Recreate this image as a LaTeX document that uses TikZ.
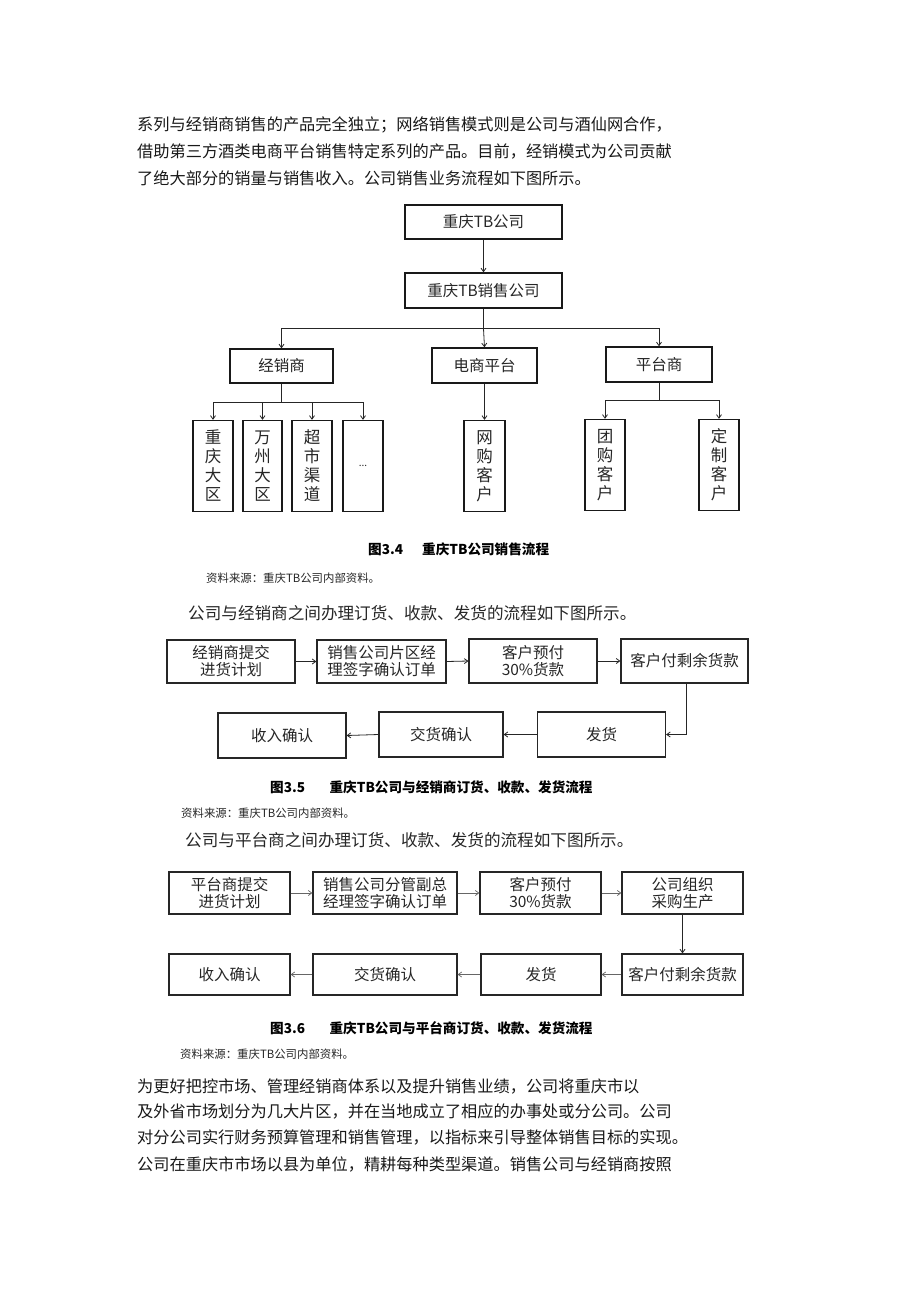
\documentclass[tikz,border=0pt]{standalone}
\usepackage{fontspec}
\setmainfont{Noto Sans CJK SC}
\usetikzlibrary{arrows.meta}
\begin{document}
\begin{tikzpicture}[x=1pt,y=-1pt,
  para/.style={anchor=west,inner sep=0pt,text=black!90,font=\fontsize{16.2}{19}\selectfont},
  mid/.style={anchor=west,inner sep=0pt,text=black!85,font=\fontsize{16.6}{19}\selectfont},
  figcap/.style={anchor=west,inner sep=0pt,text=black,font=\bfseries\fontsize{13.6}{16}\selectfont},
  src/.style={anchor=west,inner sep=0pt,text=black!85,font=\fontsize{11.4}{13}\selectfont},
  box/.style={draw=black!90,line width=1.4pt,inner sep=0pt,align=center,text=black!85,font=\fontsize{15.5}{17}\selectfont},
  leaf/.style={box,minimum width=40pt,minimum height=91pt,font=\fontsize{16.5}{19}\selectfont},
  fbox/.style={draw=black!85,line width=1.2pt,inner sep=0pt,align=center,text=black!85,font=\fontsize{15.5}{17}\selectfont},
  arr/.style={-{Straight Barb[length=3.5pt,width=5pt]},line width=0.8pt,draw=black!85},
  larr/.style={-{Straight Barb[length=3.5pt,width=5pt]},line width=0.7pt,draw=black!60},
  ln/.style={line width=0.8pt,draw=black!85}]
\useasboundingbox[fill=white] (0,0) rectangle (920,1302);

% top paragraph
\node[para] (t1) at (137,125) {系列与经销商销售的产品完全独立；网络销售模式则是公司与酒仙网合作，};
\node[para] (t2) at (137,152) {借助第三方酒类电商平台销售特定系列的产品。目前，经销模式为公司贡献};
\node[para] (t3) at (137,178) {了绝大部分的销量与销售收入。公司销售业务流程如下图所示。};

% org chart
\node[box,minimum width=157pt,minimum height=34pt] (top) at (483.5,222) {重庆TB公司};
\node[box,minimum width=157pt,minimum height=35pt] (sales) at (483.5,290.5) {重庆TB销售公司};
\node[box,minimum width=103pt,minimum height=34pt] (jxs) at (281.5,366) {经销商};
\node[box,minimum width=105pt,minimum height=35pt] (dspt) at (484.5,365.5) {电商平台};
\node[box,minimum width=106pt,minimum height=35pt] (pts) at (659,364.5) {平台商};

\node[leaf] (cq) at (213,466) {重\\庆\\大\\区};
\node[leaf,minimum width=39pt] (wz) at (262.5,466) {万\\州\\大\\区};
\node[leaf] (cs) at (312,466) {超\\市\\渠\\道};
\node[leaf] (dots) at (363,466) {\fontsize{10}{12}\selectfont ...};
\node[leaf,minimum width=41pt] (wg) at (484.5,466) {网\\购\\客\\户};
\node[leaf] (tg) at (605,465) {团\\购\\客\\户};
\node[leaf] (dz) at (719,465) {定\\制\\客\\户};

\draw[arr] (top.south) -- (sales.north);
\draw[ln] (sales.south) -- ++(0,20) coordinate (b1);
\draw[arr] (b1) -| (jxs.north);
\draw[arr] (b1) -| (pts.north);
\draw[arr] (b1) -- (dspt.north);

\draw[ln] (jxs.south) -- ++(0,19) coordinate (b2);
\draw[arr] (b2) -| (cq.north);
\draw[arr] (b2) -| (wz.north);
\draw[arr] (b2) -| (cs.north);
\draw[arr] (b2) -| (dots.north);
\draw[arr] (dspt.south) -- (wg.north);
\draw[ln] (pts.south) -- ++(0,18) coordinate (b3);
\draw[arr] (b3) -| (tg.north);
\draw[arr] (b3) -| (dz.north);

\node[figcap] (c1) at (368,549) {图3.4\hspace{1.4em}重庆TB公司销售流程};
\node[src] (s1) at (206,578) {资料来源：重庆TB公司内部资料。};
\node[mid] (m1) at (188,613) {公司与经销商之间办理订货、收款、发货的流程如下图所示。};

% flow 1
\node[fbox,minimum width=128pt,minimum height=43pt] (fa) at (231,661.5) {经销商提交\\进货计划};
\node[fbox,minimum width=129pt,minimum height=43pt] (fb) at (381.5,661.5) {销售公司片区经\\理签字确认订单};
\node[fbox,minimum width=128pt,minimum height=44pt] (fc) at (533,661) {客户预付\\30\%货款};
\node[fbox,minimum width=127pt,minimum height=44pt] (fd) at (684.5,661) {客户付剩余货款};
\node[fbox,minimum width=128pt,minimum height=45pt] (fe) at (601.5,734.5) {发货};
\node[fbox,minimum width=124pt,minimum height=45pt] (ff) at (441,734.5) {交货确认};
\node[fbox,minimum width=128pt,minimum height=45pt] (fg) at (282,735.5) {收入确认};
\draw[arr] (fa.east) -- (fb.west);
\draw[arr] (fb.east) -- (fc.west);
\draw[arr] (fc.east) -- (fd.west);
\draw[arr] (fd.south) ++(1.5,0) |- (fe.east);
\draw[arr] (fe.west) -- (ff.east);
\draw[arr] (ff.west) -- (fg.east);

\node[figcap] (c2) at (270,787) {图3.5\hspace{1.8em}重庆TB公司与经销商订货、收款、发货流程};
\node[src] (s2) at (181,813) {资料来源：重庆TB公司内部资料。};
\node[mid] (m2) at (185,840) {公司与平台商之间办理订货、收款、发货的流程如下图所示。};

% flow 2
\node[fbox,minimum width=121pt,minimum height=42pt] (ga) at (229.5,893) {平台商提交\\进货计划};
\node[fbox,minimum width=144pt,minimum height=42pt] (gb) at (385,893) {销售公司分管副总\\经理签字确认订单};
\node[fbox,minimum width=121pt,minimum height=42pt] (gc) at (540.5,893) {客户预付\\30\%货款};
\node[fbox,minimum width=121pt,minimum height=42pt] (gd) at (682.5,893) {公司组织\\采购生产};
\node[fbox,minimum width=121pt,minimum height=41pt] (ge) at (682.5,974.5) {客户付剩余货款};
\node[fbox,minimum width=120pt,minimum height=41pt] (gf) at (541,974.5) {发货};
\node[fbox,minimum width=144pt,minimum height=41pt] (gg) at (385,974.5) {交货确认};
\node[fbox,minimum width=121pt,minimum height=41pt] (gh) at (229.5,974.5) {收入确认};
\draw[larr] (ga.east) -- (gb.west);
\draw[larr] (gb.east) -- (gc.west);
\draw[larr] (gc.east) -- (gd.west);
\draw[arr] (gd.south) -- (ge.north);
\draw[larr] (ge.west) -- (gf.east);
\draw[larr] (gf.west) -- (gg.east);
\draw[larr] (gg.west) -- (gh.east);

\node[figcap] (c3) at (270,1028) {图3.6\hspace{1.8em}重庆TB公司与平台商订货、收款、发货流程};
\node[src] (s3) at (180,1054) {资料来源：重庆TB公司内部资料。};

% bottom paragraph
\node[para] (u1) at (137,1086) {为更好把控市场、管理经销商体系以及提升销售业绩，公司将重庆市以};
\node[para] (u2) at (137,1111) {及外省市场划分为几大片区，并在当地成立了相应的办事处或分公司。公司};
\node[para] (u3) at (137,1137) {对分公司实行财务预算管理和销售管理，以指标来引导整体销售目标的实现。};
\node[para] (u4) at (137,1164) {公司在重庆市市场以县为单位，精耕每种类型渠道。销售公司与经销商按照};
\end{tikzpicture}
\end{document}
